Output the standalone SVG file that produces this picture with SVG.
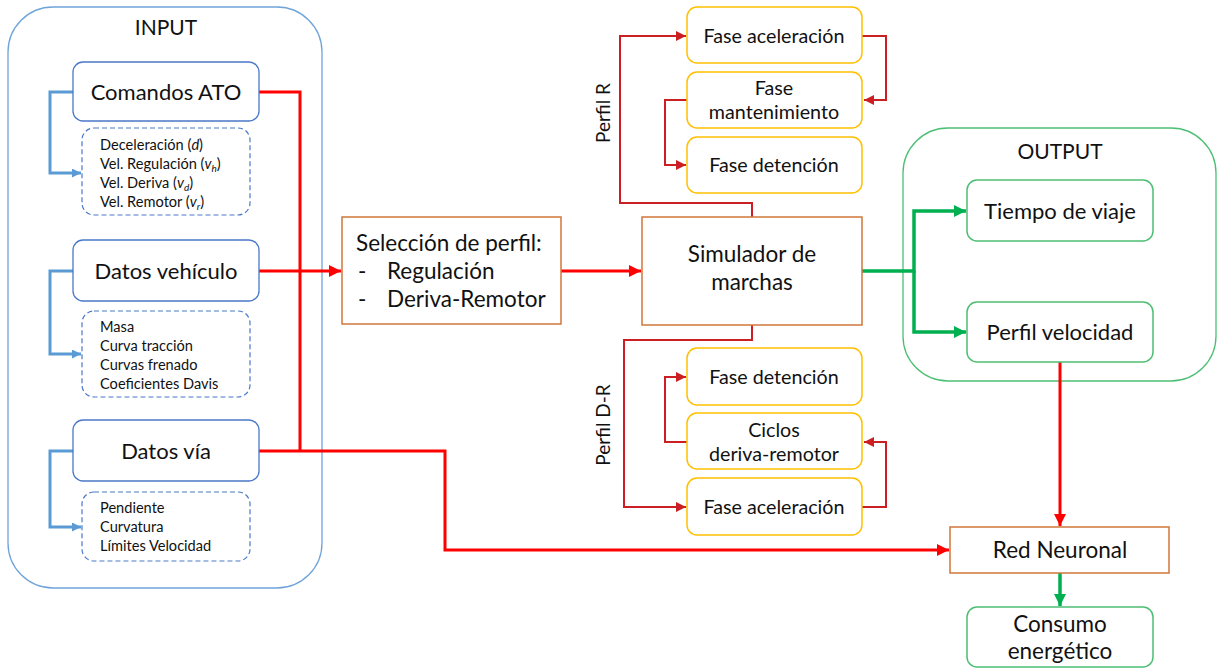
<svg xmlns="http://www.w3.org/2000/svg" width="1219" height="668" viewBox="0 0 1219 668">
  <defs>
    <style>
      text { font-family: Lato, "Liberation Sans", sans-serif; fill: #111; }
      .big { font-size: 22px; }
      .mid { font-size: 22.5px; }
      .phase { font-size: 19.7px; }
      .side { font-size: 19px; }
      .small { font-size: 14.6px; }
      .title { font-size: 21px; }
      .container-in { fill: #fff; stroke: #6FA4DA; stroke-width: 1.3; }
      .container-out { fill: #fff; stroke: #4CBF73; stroke-width: 1.3; }
      .box-in { fill: #fff; stroke: #4A78C8; stroke-width: 1.3; }
      .box-dash { fill: #fff; stroke: #4A78C8; stroke-width: 1.2; stroke-dasharray: 5 3; }
      .box-orange { fill: #fff; stroke: #D0773A; stroke-width: 1.5; }
      .box-yellow { fill: #fff; stroke: #FFC000; stroke-width: 1.5; }
      .box-green { fill: #fff; stroke: #4CBF73; stroke-width: 1.5; }
      .c-blue { fill: none; stroke: #5B9BD5; stroke-width: 3; }
      .c-red { fill: none; stroke: #FF0000; stroke-width: 3; }
      .c-dred { fill: none; stroke: #CC1F24; stroke-width: 2; }
      .c-green { fill: none; stroke: #00B050; stroke-width: 3.5; }
    </style>
    <marker id="ah-blue" viewBox="0 0 10 10" refX="10" refY="5" markerWidth="3" markerHeight="3" orient="auto" markerUnits="strokeWidth">
      <path d="M0,0 L10,5 L0,10 z" fill="#5B9BD5"/>
    </marker>
    <marker id="ah-red" viewBox="0 0 10 10" refX="10" refY="5" markerWidth="4" markerHeight="4" orient="auto" markerUnits="strokeWidth">
      <path d="M0,0 L10,5 L0,10 z" fill="#FF0000"/>
    </marker>
    <marker id="ah-dred" viewBox="0 0 10 10" refX="10" refY="5" markerWidth="5" markerHeight="5" orient="auto" markerUnits="strokeWidth">
      <path d="M0,0 L10,5 L0,10 z" fill="#CC1F24"/>
    </marker>
    <marker id="ah-green" viewBox="0 0 10 10" refX="10" refY="5" markerWidth="3.5" markerHeight="3.5" orient="auto" markerUnits="strokeWidth">
      <path d="M0,0 L10,5 L0,10 z" fill="#00B050"/>
    </marker>
  </defs>

  <rect width="1219" height="668" fill="#fff"/>

  <!-- INPUT container -->
  <g id="input">
    <rect class="container-in" x="8" y="7" width="314" height="581" rx="45"/>
    <text class="title" x="166" y="35" text-anchor="middle">INPUT</text>
  </g>

  <!-- OUTPUT container -->
  <g id="output">
    <rect class="container-out" x="903" y="128" width="313" height="253" rx="45"/>
    <text class="title" x="1060" y="159" text-anchor="middle">OUTPUT</text>
  </g>

  <!-- connectors -->
  <g id="connectors">
    <!-- input detail links -->
    <path class="c-blue" d="M73,92 H50 V173 H81" marker-end="url(#ah-blue)"/>
    <path class="c-blue" d="M73,271 H50 V354 H81" marker-end="url(#ah-blue)"/>
    <path class="c-blue" d="M73,451 H50 V527 H81" marker-end="url(#ah-blue)"/>

    <!-- input data to profile selection and network -->
    <path class="c-red" d="M259,92 H300 V451"/>
    <path class="c-red" d="M259,271 H341" marker-end="url(#ah-red)"/>
    <path class="c-red" d="M259,451 H445 V550 H949" marker-end="url(#ah-red)"/>
    <path class="c-red" d="M561,271 H641" marker-end="url(#ah-red)"/>

    <!-- Perfil R -->
    <path class="c-dred" d="M752,217 V203 H620 V36 H686" marker-end="url(#ah-dred)"/>
    <path class="c-dred" d="M862,36 H886 V100 H864" marker-end="url(#ah-dred)"/>
    <path class="c-dred" d="M687,100 H665 V165 H686" marker-end="url(#ah-dred)"/>

    <!-- Perfil D-R -->
    <path class="c-dred" d="M752,325 V340 H624 V507 H686" marker-end="url(#ah-dred)"/>
    <path class="c-dred" d="M687,442 H665 V377 H686" marker-end="url(#ah-dred)"/>
    <path class="c-dred" d="M862,507 H886 V442 H864" marker-end="url(#ah-dred)"/>

    <!-- outputs -->
    <path class="c-green" d="M862,271 H914 V211 H966" marker-end="url(#ah-green)"/>
    <path class="c-green" d="M914,271 V332 H966" marker-end="url(#ah-green)"/>
    <path class="c-red" d="M1060,362 V526" marker-end="url(#ah-red)"/>
    <path class="c-green" d="M1060,573 V606" marker-end="url(#ah-green)"/>
  </g>

  <!-- Comandos ATO -->
  <g id="comandos-ato">
    <rect class="box-in" x="73" y="62" width="186" height="59" rx="10"/>
    <text class="big" x="166" y="100" text-anchor="middle">Comandos ATO</text>
  </g>
  <g id="comandos-ato-detalle">
    <rect class="box-dash" x="82" y="128" width="168" height="87" rx="12"/>
    <text class="small" x="100" y="150">Deceleración (<tspan font-style="italic">d</tspan>)</text>
    <text class="small" x="100" y="169">Vel. Regulación (<tspan font-style="italic">v<tspan font-size="10" dy="3">h</tspan></tspan><tspan dy="-3">)</tspan></text>
    <text class="small" x="100" y="188">Vel. Deriva (<tspan font-style="italic">v<tspan font-size="10" dy="3">d</tspan></tspan><tspan dy="-3">)</tspan></text>
    <text class="small" x="100" y="207">Vel. Remotor (<tspan font-style="italic">v<tspan font-size="10" dy="3">r</tspan></tspan><tspan dy="-3">)</tspan></text>
  </g>

  <!-- Datos vehículo -->
  <g id="datos-vehiculo">
    <rect class="box-in" x="73" y="240" width="186" height="61" rx="10"/>
    <text class="big" x="166" y="279" text-anchor="middle">Datos vehículo</text>
  </g>
  <g id="datos-vehiculo-detalle">
    <rect class="box-dash" x="82" y="311" width="168" height="86" rx="12"/>
    <text class="small" x="100" y="332">Masa</text>
    <text class="small" x="100" y="351">Curva tracción</text>
    <text class="small" x="100" y="370">Curvas frenado</text>
    <text class="small" x="100" y="389">Coeficientes Davis</text>
  </g>

  <!-- Datos vía -->
  <g id="datos-via">
    <rect class="box-in" x="73" y="420" width="186" height="61" rx="10"/>
    <text class="big" x="166" y="459" text-anchor="middle">Datos vía</text>
  </g>
  <g id="datos-via-detalle">
    <rect class="box-dash" x="82" y="492" width="168" height="69" rx="12"/>
    <text class="small" x="100" y="513">Pendiente</text>
    <text class="small" x="100" y="532">Curvatura</text>
    <text class="small" x="100" y="551">Límites Velocidad</text>
  </g>

  <!-- Selección de perfil -->
  <g id="seleccion-perfil">
    <rect class="box-orange" x="342" y="217" width="219" height="107"/>
    <text class="mid" x="356" y="251">Selección de perfil:</text>
    <text class="mid" x="358" y="279">-</text>
    <text class="mid" x="387" y="279">Regulación</text>
    <text class="mid" x="358" y="307">-</text>
    <text class="mid" x="387" y="307">Deriva-Remotor</text>
  </g>

  <!-- Simulador de marchas -->
  <g id="simulador">
    <rect class="box-orange" x="642" y="217" width="220" height="108"/>
    <text class="mid" x="752" y="262" text-anchor="middle">Simulador de</text>
    <text class="mid" x="752" y="290" text-anchor="middle">marchas</text>
  </g>

  <!-- Perfil R label -->
  <g id="perfil-r-label">
    <text class="side" transform="translate(610,113) rotate(-90)" text-anchor="middle">Perfil R</text>
  </g>

  <g id="r-fase-aceleracion">
    <rect class="box-yellow" x="687" y="7" width="175" height="56" rx="10"/>
    <text class="phase" x="774" y="43" text-anchor="middle">Fase aceleración</text>
  </g>
  <g id="r-fase-mantenimiento">
    <rect class="box-yellow" x="687" y="72" width="175" height="56" rx="10"/>
    <text class="phase" x="774" y="95" text-anchor="middle">Fase</text>
    <text class="phase" x="774" y="119" text-anchor="middle">mantenimiento</text>
  </g>
  <g id="r-fase-detencion">
    <rect class="box-yellow" x="687" y="137" width="175" height="56" rx="10"/>
    <text class="phase" x="774" y="172" text-anchor="middle">Fase detención</text>
  </g>

  <!-- Perfil D-R label -->
  <g id="perfil-dr-label">
    <text class="side" transform="translate(610,425) rotate(-90)" text-anchor="middle">Perfil D-R</text>
  </g>

  <g id="dr-fase-detencion">
    <rect class="box-yellow" x="687" y="348" width="175" height="57" rx="10"/>
    <text class="phase" x="774" y="384" text-anchor="middle">Fase detención</text>
  </g>
  <g id="dr-ciclos">
    <rect class="box-yellow" x="687" y="413" width="175" height="56" rx="10"/>
    <text class="phase" x="774" y="437" text-anchor="middle">Ciclos</text>
    <text class="phase" x="774" y="461" text-anchor="middle">deriva-remotor</text>
  </g>
  <g id="dr-fase-aceleracion">
    <rect class="box-yellow" x="687" y="478" width="175" height="57" rx="10"/>
    <text class="phase" x="774" y="514" text-anchor="middle">Fase aceleración</text>
  </g>

  <!-- Outputs -->
  <g id="tiempo-viaje">
    <rect class="box-green" x="967" y="180" width="186" height="61" rx="10"/>
    <text class="big" x="1060" y="219" text-anchor="middle">Tiempo de viaje</text>
  </g>
  <g id="perfil-velocidad">
    <rect class="box-green" x="967" y="302" width="186" height="60" rx="10"/>
    <text class="big" x="1060" y="340" text-anchor="middle">Perfil velocidad</text>
  </g>

  <!-- Red Neuronal -->
  <g id="red-neuronal">
    <rect class="box-orange" x="950" y="527" width="219" height="46"/>
    <text class="mid" x="1060" y="558" text-anchor="middle">Red Neuronal</text>
  </g>

  <!-- Consumo energético -->
  <g id="consumo">
    <rect class="box-green" x="967" y="607" width="186" height="60" rx="10"/>
    <text class="mid" x="1060" y="632" text-anchor="middle">Consumo</text>
    <text class="mid" x="1060" y="659" text-anchor="middle">energético</text>
  </g>
</svg>
